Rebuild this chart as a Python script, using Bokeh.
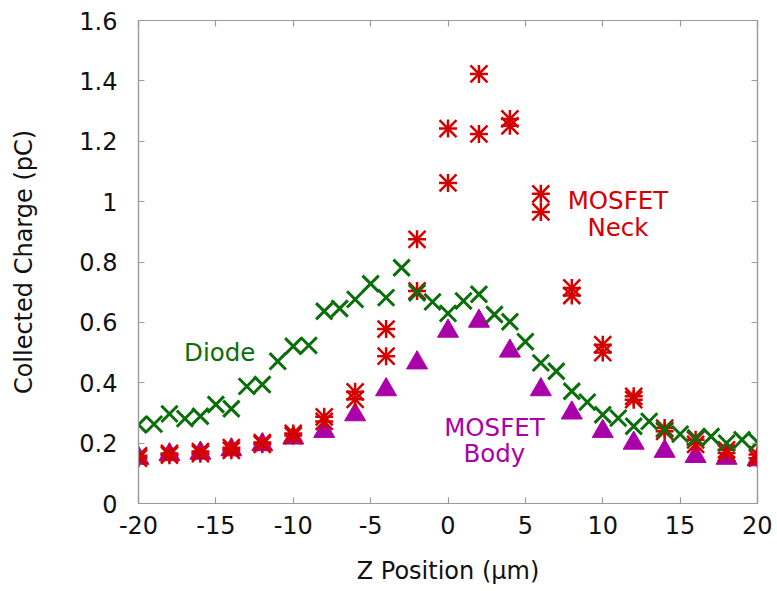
from bokeh.plotting import figure
from bokeh.models import LinearAxis, Range1d, FixedTicker, Label
from bokeh.embed import file_html
from bokeh.resources import INLINE

# Diode: every 1 um
diode_x = list(range(-20, 21))
diode_y = [0.261, 0.263, 0.297, 0.281, 0.289, 0.328, 0.314, 0.388, 0.394, 0.471,
           0.521, 0.524, 0.637, 0.646, 0.676, 0.728, 0.682, 0.781, 0.698, 0.668,
           0.630, 0.671, 0.693, 0.626, 0.602, 0.536, 0.466, 0.438, 0.372, 0.336,
           0.294, 0.283, 0.256, 0.272, 0.245, 0.230, 0.217, 0.222, 0.200, 0.211,
           0.203]

# MOSFET Body: every 2 um
body_x = list(range(-20, 21, 2))
body_y = [0.150, 0.162, 0.167, 0.178, 0.195, 0.217, 0.239, 0.294, 0.377, 0.466,
          0.571, 0.604, 0.505, 0.377, 0.300, 0.239, 0.200, 0.173, 0.156, 0.150,
          0.145]

# MOSFET Neck: two measurements per position
neck_x = [x for x in range(-20, 21, 2) for _ in range(2)]
neck_y = [0.150, 0.158, 0.160, 0.166, 0.165, 0.172, 0.176, 0.185, 0.196, 0.202,
          0.225, 0.232, 0.272, 0.287, 0.345, 0.370, 0.488, 0.578, 0.704, 0.875,
          1.062, 1.242, 1.224, 1.423, 1.251, 1.274, 0.966, 1.026, 0.689, 0.714,
          0.500, 0.526, 0.344, 0.355, 0.239, 0.250, 0.196, 0.211, 0.167, 0.178,
          0.150, 0.162]

x_ticks = [-20, -15, -10, -5, 0, 5, 10, 15, 20]
x_tick_labels = {-20: "-20", -15: "-15", -10: "-10", -5: "-5", 0: "0",
                 5: "5", 10: "10", 15: "15", 20: "20"}
y_ticks = [0, 0.2, 0.4, 0.6, 0.8, 1.0, 1.2, 1.4, 1.6]
y_tick_labels = {0: "0", 0.2: "0.2", 0.4: "0.4", 0.6: "0.6", 0.8: "0.8",
                 1.0: "1", 1.2: "1.2", 1.4: "1.4", 1.6: "1.6"}

GREEN = "#0a6e0a"
RED = "#d40000"
PURPLE = "#aa00aa"
FONT = "DejaVu Sans"
FRAME = "#9a9a9a"
TXT = "#111111"

p = figure(width=772, height=591, output_backend="svg", toolbar_location=None,
           x_range=Range1d(-20, 20), y_range=Range1d(0, 1.6),
           min_border_left=138, min_border_right=15, min_border_top=20,
           min_border_bottom=88, x_axis_location=None, y_axis_location=None)
p.grid.visible = False
p.outline_line_color = FRAME
p.outline_line_width = 1.2

def style(ax, labels=True):
    ax.axis_line_color = FRAME
    ax.axis_line_width = 1.2
    ax.major_tick_line_color = FRAME
    ax.major_tick_line_width = 1.2
    ax.major_tick_in = 6
    ax.major_tick_out = 0
    ax.minor_tick_line_color = None
    ax.major_label_text_font = FONT
    ax.major_label_text_font_size = "24px"
    ax.major_label_text_color = TXT
    ax.axis_label_text_font = FONT
    ax.axis_label_text_font_size = "24px"
    ax.axis_label_text_font_style = "normal"
    ax.axis_label_text_color = TXT
    if not labels:
        ax.major_label_text_color = None
        ax.major_label_text_font_size = "1px"
        ax.major_label_standoff = 0

xb = LinearAxis(ticker=FixedTicker(ticks=x_ticks), axis_label="Z Position (µm)")
style(xb)
xb.major_label_overrides = x_tick_labels
xb.major_label_standoff = 12
xb.axis_label_standoff = 20
p.add_layout(xb, "below")

yl = LinearAxis(ticker=FixedTicker(ticks=y_ticks), axis_label="Collected Charge (pC)")
style(yl)
yl.major_label_overrides = y_tick_labels
yl.major_label_standoff = 21
yl.axis_label_standoff = 38
p.add_layout(yl, "left")

xt = LinearAxis(ticker=FixedTicker(ticks=x_ticks))
style(xt, labels=False)
p.add_layout(xt, "above")
yr = LinearAxis(ticker=FixedTicker(ticks=y_ticks))
style(yr, labels=False)
p.add_layout(yr, "right")

p.scatter(body_x, body_y, marker="triangle", size=21, fill_color=PURPLE,
          line_color=PURPLE, line_width=1)
p.scatter(neck_x, neck_y, marker="cross", size=18, line_color=RED, line_width=2.5)
p.scatter(neck_x, neck_y, marker="x", size=24, line_color=RED, line_width=2.5)
p.scatter(diode_x, diode_y, marker="x", size=23, line_color=GREEN, line_width=3)

def lab(x, y, t, c):
    p.add_layout(Label(x=x, y=y, text=t, text_color=c, text_font=FONT,
                       text_font_size="24.5px", text_align="center",
                       text_baseline="alphabetic"))

lab(-14.75, 0.499, "Diode", GREEN)
lab(10.98, 1.003, "MOSFET", RED)
lab(10.98, 0.915, "Neck", RED)
lab(3.0, 0.253, "MOSFET", PURPLE)
lab(3.0, 0.165, "Body", PURPLE)

open("out.html", "w").write(file_html(p, INLINE))
